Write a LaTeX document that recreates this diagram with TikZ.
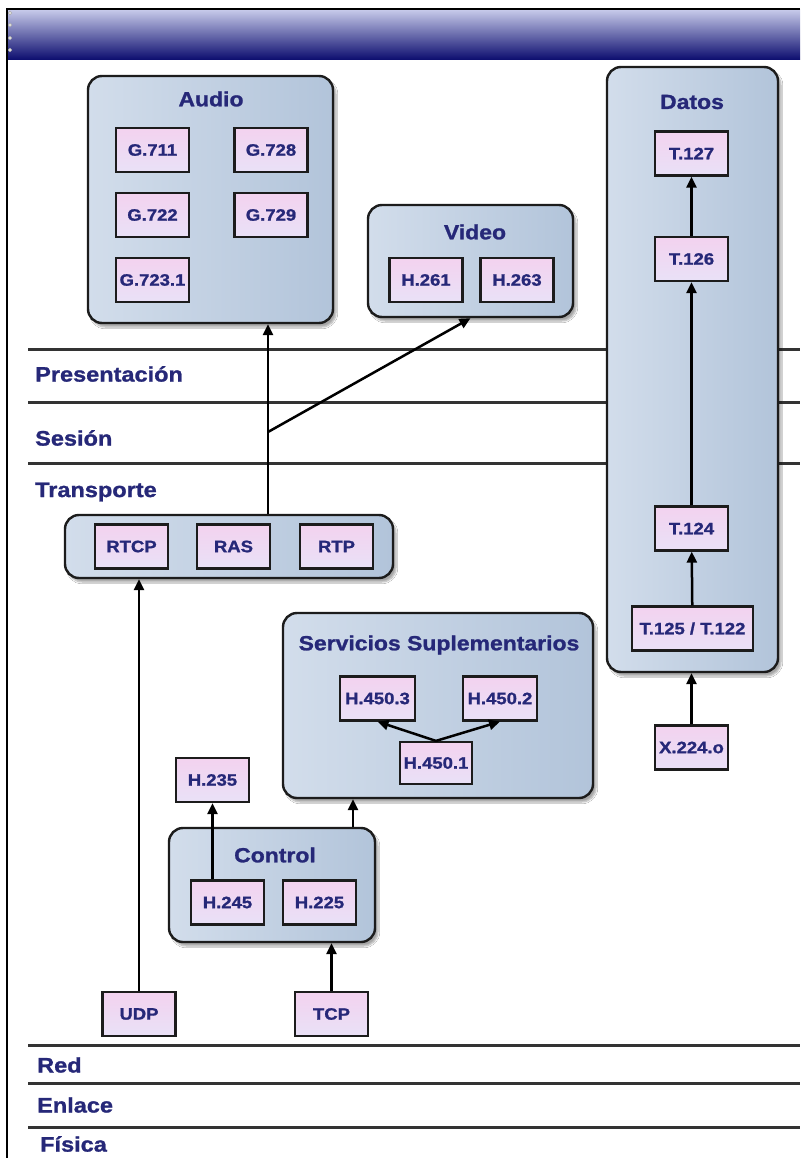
\documentclass[tikz,border=0pt]{standalone}
\usepackage{fontspec}
\newfontfamily\lblfont{Liberation Sans}[FakeStretch=1.12, FakeBold=1.2]
\usetikzlibrary{arrows.meta,shadows.blur}

\definecolor{txtblue}{HTML}{262878}
\definecolor{edge}{HTML}{1C1C1C}
\definecolor{contL}{HTML}{D2DDEB}
\definecolor{contR}{HTML}{B2C4DA}
\definecolor{boxT}{HTML}{F3D2EF}
\definecolor{boxB}{HTML}{E9E1F7}
\definecolor{barT}{HTML}{C6C9E9}
\definecolor{barM}{HTML}{7C81C6}
\definecolor{barB}{HTML}{0B0C6E}

\tikzset{
  cont/.style={draw=edge, line width=2.4pt, rounded corners=14pt,
    left color=contL, right color=contR, inner sep=0pt,
    blur shadow={shadow xshift=3pt, shadow yshift=-4pt, shadow blur steps=6, shadow opacity=35}},
  std/.style={draw=edge, line width=2.2pt, top color=boxT, bottom color=boxB,
    minimum width=73pt, minimum height=44pt, inner sep=0pt,
    font=\lblfont\bfseries\fontsize{16.5}{18}\selectfont, text=txtblue},
  ttl/.style={font=\lblfont\bfseries\fontsize{20.5}{22}\selectfont, text=txtblue},
  layer/.style={font=\lblfont\bfseries\fontsize{21}{23}\selectfont, text=txtblue, anchor=west, inner sep=0pt},
  sep/.style={line width=3pt, draw=edge!90},
  arr/.style={line width=2.5pt, draw=black, -{Triangle[length=11pt,width=10pt]}},
  plain/.style={line width=2.5pt, draw=black}
}

\begin{document}
\begin{tikzpicture}[x=1pt,y=-1pt]
\useasboundingbox (0,0) rectangle (800,1158);
\fill[white] (0,0) rectangle (800,1158);

% title bar and frame
\shade[top color=barT, middle color=barM, bottom color=barB] (7,10) rectangle (800,60);
\foreach \yy in {13,25,38,50}
  \draw[gray!70, fill=white!85!gray, line width=0.6pt] (10,\yy) circle (1.8);
\draw[line width=2pt, black] (7,1158) -- (7,9) -- (800,9);

% layer separators
\foreach \yy in {349,402,463,1045,1083,1127}
  \draw[sep] (28,\yy) -- (800,\yy);
\node[layer] (lpres) at (35,374) {Presentación};
\node[layer] (lses)  at (35,438) {Sesión};
\node[layer] (ltra)  at (35,492) {Transporte};
\node[layer] (lred)  at (37,1065) {Red};
\node[layer] (lenl)  at (37,1105) {Enlace};
\node[layer] (lfis)  at (40,1144) {Física};

% containers
\node[cont, minimum width=245pt, minimum height=247pt] (audio) at (210.5,199.5) {};
\node[cont, minimum width=205pt, minimum height=112pt] (video) at (470.5,261) {};
\node[cont, minimum width=171pt, minimum height=605pt] (datos) at (692.5,369.5) {};
\node[cont, minimum width=328pt, minimum height=63pt] (trans) at (229,546.5) {};
\node[cont, minimum width=310pt, minimum height=185pt] (serv) at (438,705.5) {};
\node[cont, minimum width=206pt, minimum height=114pt] (control) at (272,885) {};

% container titles
\node[ttl] (taudio) at (211,99) {Audio};
\node[ttl] (tvideo) at (475,232) {Video};
\node[ttl] (tdatos) at (692,102) {Datos};
\node[ttl] (tserv) at (439,645) {Servicios Suplementarios};
\node[ttl] (tcontrol) at (275,855) {Control};

% audio codecs
\node[std] (g711) at (152.5,150) {G.711};
\node[std] (g728) at (271,150) {G.728};
\node[std] (g722) at (152.5,215) {G.722};
\node[std] (g729) at (271,215) {G.729};
\node[std] (g7231) at (152.5,280) {G.723.1};

% video codecs
\node[std] (h261) at (426,280) {H.261};
\node[std] (h263) at (517,280) {H.263};

% data protocols
\node[std] (t127) at (691.5,153.5) {T.127};
\node[std] (t126) at (691.5,259) {T.126};
\node[std] (t124) at (691.5,528.5) {T.124};
\node[std, minimum width=121pt] (t125) at (692.5,628.5) {T.125 / T.122};
\node[std] (x224) at (691.5,747.5) {X.224.o};

% transport
\node[std] (rtcp) at (131.5,546.5) {RTCP};
\node[std] (ras)  at (233.5,546.5) {RAS};
\node[std] (rtp)  at (336.5,546.5) {RTP};

% supplementary services
\node[std, minimum width=75pt] (h4503) at (377.5,698.5) {H.450.3};
\node[std, minimum width=74pt] (h4502) at (500,698.5) {H.450.2};
\node[std, minimum width=72pt, minimum height=42pt] (h4501) at (436,763) {H.450.1};

% control
\node[std] (h235) at (212.5,780) {H.235};
\node[std] (h245) at (227.5,902.5) {H.245};
\node[std] (h225) at (319.5,902.5) {H.225};

% lower layer protocols
\node[std] (udp) at (139,1014) {UDP};
\node[std] (tcp) at (331.5,1014) {TCP};

% connectors
\coordinate (tap) at (268,546.5);
\coordinate (fork) at (268,432);
\draw[arr] (tap |- trans.north) -- (tap |- audio.south);
\draw[arr] (fork) -- (video.south);

\draw[arr] (t126) -- (t127);
\draw[arr] (t124) -- (t126);
\draw[arr] (t125) -- (t124);
\draw[arr] (x224) -- (x224 |- datos.south);

\draw[arr] (udp) -- (udp |- trans.south);
\draw[arr] (tcp) -- (tcp |- control.south);
\draw[arr] (h245.north -| h235) -- (h235);
\coordinate (ctlup) at (353,885);
\draw[arr] (ctlup |- control.north) -- (ctlup |- serv.south);
\draw[arr] (h4501.north) -- (h4503.south);
\draw[arr] (h4501.north) -- (h4502.south);
\end{tikzpicture}
\end{document}
